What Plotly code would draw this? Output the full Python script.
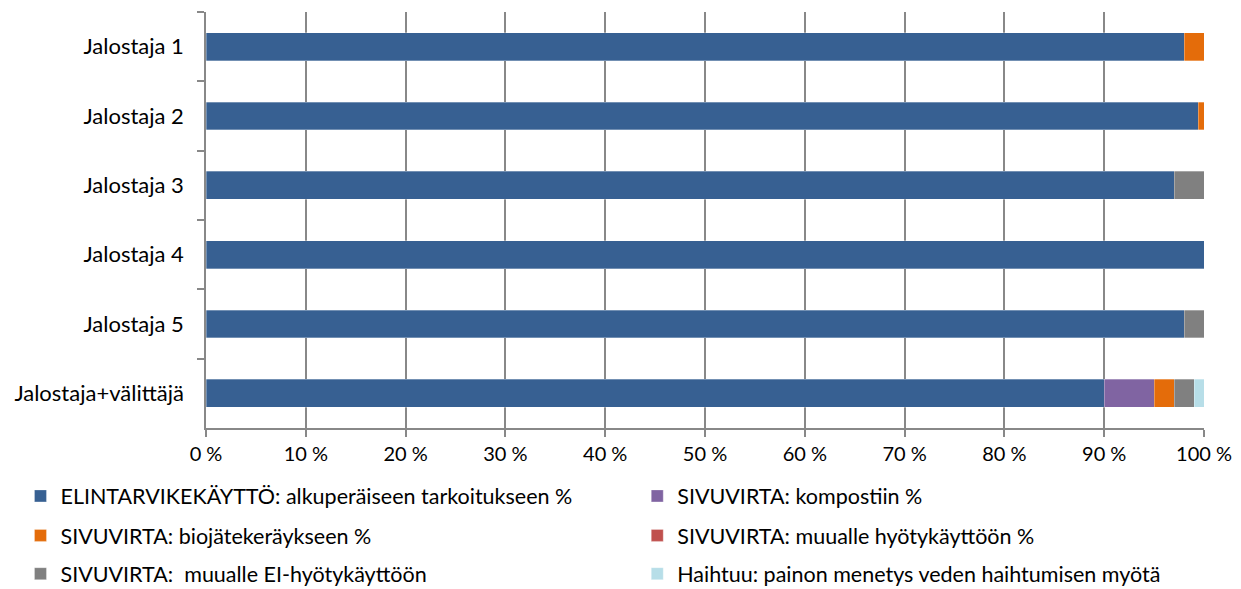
import plotly.graph_objects as go

categories = ["Jalostaja 1", "Jalostaja 2", "Jalostaja 3", "Jalostaja 4", "Jalostaja 5", "Jalostaja+välittäjä"]

series_names = [
    "ELINTARVIKEKÄYTTÖ: alkuperäiseen tarkoitukseen %",
    "SIVUVIRTA: kompostiin %",
    "SIVUVIRTA: biojätekeräykseen %",
    "SIVUVIRTA: muualle hyötykäyttöön %",
    "SIVUVIRTA:  muualle EI-hyötykäyttöön",
    "Haihtuu: painon menetys veden haihtumisen myötä",
]

elintarvike = [98.0, 99.4, 97.0, 100.0, 98.0, 90.0]
kompostiin = [0, 0, 0, 0, 0, 5.0]
biojate = [2.0, 0.6, 0, 0, 0, 2.0]
muualle_hyoty = [0, 0, 0, 0, 0, 0]
ei_hyoty = [0, 0, 3.0, 0, 2.0, 2.0]
haihtuu = [0, 0, 0, 0, 0, 1.0]

series_values = [elintarvike, kompostiin, biojate, muualle_hyoty, ei_hyoty, haihtuu]
colors = ["#376092", "#8064A2", "#E46C0A", "#C0504D", "#808080", "#B7DEE8"]

x_ticks = list(range(0, 101, 10))
x_ticklabels = [f"{t} %" for t in x_ticks]

FONT = "Lato"

# legend placement (container coords): two columns, three rows
legend_x = [0.0165, 0.5135]
legend_y = [0.158, 0.091, 0.026]

fig = go.Figure()
legend_layouts = {}
for i, (name, vals, col) in enumerate(zip(series_names, series_values, colors)):
    lid = "legend" if i == 0 else f"legend{i + 1}"
    fig.add_trace(go.Bar(
        y=categories, x=vals, name=name, orientation="h",
        marker=dict(color=col, line=dict(color="rgba(255,255,255,0.5)", width=0.6)),
        legend=lid,
    ))
    legend_layouts[lid] = dict(
        x=legend_x[i % 2], y=legend_y[i // 2],
        xref="container", yref="container",
        xanchor="left", yanchor="middle",
        orientation="h",
        font=dict(family=FONT, size=21.5, color="#000000"),
        bgcolor="rgba(0,0,0,0)", itemwidth=30,
    )

fig.update_layout(
    barmode="stack",
    bargap=0.6,
    width=1241, height=589,
    margin=dict(l=206, r=37, t=12, b=161, autoexpand=False),
    paper_bgcolor="white", plot_bgcolor="white",
    font=dict(family=FONT, size=20, color="#000000"),
    xaxis=dict(
        range=[0, 100], tickvals=x_ticks, ticktext=x_ticklabels,
        showgrid=True, gridcolor="#888888", gridwidth=1.5,
        showline=True, linecolor="#888888", linewidth=1.5,
        ticks="outside", ticklen=7, tickcolor="#888888", tickwidth=1.5,
        tickfont=dict(family=FONT, size=20, color="#000000"),
        zeroline=False,
    ),
    yaxis=dict(
        autorange="reversed", type="category",
        showline=True, linecolor="#888888", linewidth=1.5,
        ticks="outside", ticklen=7, tickcolor="#888888", tickwidth=1.5,
        tickson="boundaries", showgrid=False,
        tickfont=dict(family=FONT, size=22, color="#000000"),
        ticklabelstandoff=16,
    ),
    showlegend=True,
    **legend_layouts,
)

fig.write_html("out.html")
